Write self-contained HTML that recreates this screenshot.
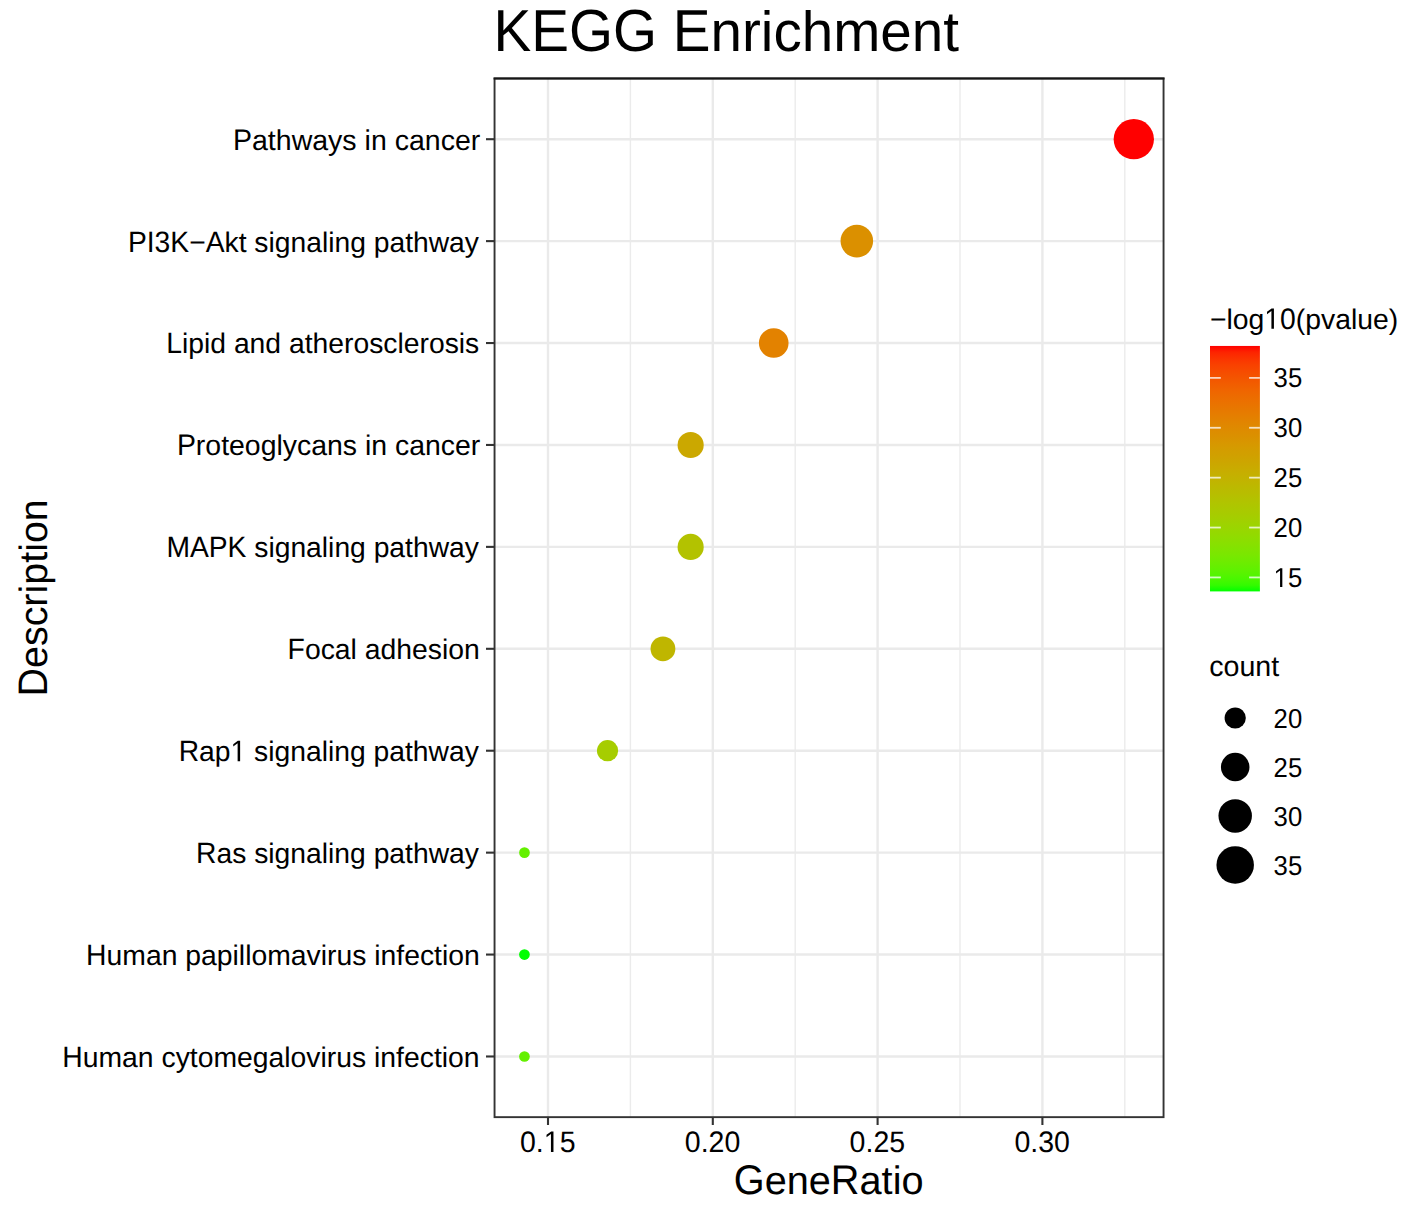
<!DOCTYPE html><html><head><meta charset="utf-8"><title>KEGG Enrichment</title><style>html,body{margin:0;padding:0;background:#fff;}svg{display:block;}text{font-family:"Liberation Sans", sans-serif;fill:#000;text-rendering:geometricPrecision;}</style></head><body>
<svg width="1417" height="1205" viewBox="0 0 1417 1205">
<rect x="0" y="0" width="1417" height="1205" fill="#fff"/>
<line x1="630.40" y1="78.45" x2="630.40" y2="1117.15" stroke="#EBEBEB" stroke-width="1.4"/>
<line x1="795.20" y1="78.45" x2="795.20" y2="1117.15" stroke="#EBEBEB" stroke-width="1.4"/>
<line x1="960.00" y1="78.45" x2="960.00" y2="1117.15" stroke="#EBEBEB" stroke-width="1.4"/>
<line x1="1124.80" y1="78.45" x2="1124.80" y2="1117.15" stroke="#EBEBEB" stroke-width="1.4"/>
<line x1="548.00" y1="78.45" x2="548.00" y2="1117.15" stroke="#EAEAEA" stroke-width="2.4"/>
<line x1="712.80" y1="78.45" x2="712.80" y2="1117.15" stroke="#EAEAEA" stroke-width="2.4"/>
<line x1="877.60" y1="78.45" x2="877.60" y2="1117.15" stroke="#EAEAEA" stroke-width="2.4"/>
<line x1="1042.40" y1="78.45" x2="1042.40" y2="1117.15" stroke="#EAEAEA" stroke-width="2.4"/>
<line x1="494.55" y1="139.20" x2="1163.55" y2="139.20" stroke="#EAEAEA" stroke-width="2.4"/>
<line x1="494.55" y1="241.12" x2="1163.55" y2="241.12" stroke="#EAEAEA" stroke-width="2.4"/>
<line x1="494.55" y1="343.04" x2="1163.55" y2="343.04" stroke="#EAEAEA" stroke-width="2.4"/>
<line x1="494.55" y1="444.96" x2="1163.55" y2="444.96" stroke="#EAEAEA" stroke-width="2.4"/>
<line x1="494.55" y1="546.88" x2="1163.55" y2="546.88" stroke="#EAEAEA" stroke-width="2.4"/>
<line x1="494.55" y1="648.80" x2="1163.55" y2="648.80" stroke="#EAEAEA" stroke-width="2.4"/>
<line x1="494.55" y1="750.72" x2="1163.55" y2="750.72" stroke="#EAEAEA" stroke-width="2.4"/>
<line x1="494.55" y1="852.64" x2="1163.55" y2="852.64" stroke="#EAEAEA" stroke-width="2.4"/>
<line x1="494.55" y1="954.56" x2="1163.55" y2="954.56" stroke="#EAEAEA" stroke-width="2.4"/>
<line x1="494.55" y1="1056.48" x2="1163.55" y2="1056.48" stroke="#EAEAEA" stroke-width="2.4"/>
<circle cx="1133.80" cy="139.20" r="20.15" fill="#FF0000"/>
<circle cx="856.83" cy="241.12" r="16.28" fill="#DB9000"/>
<circle cx="773.73" cy="343.04" r="14.82" fill="#E38200"/>
<circle cx="690.64" cy="444.96" r="13.08" fill="#CBA800"/>
<circle cx="690.64" cy="546.88" r="13.08" fill="#B3C200"/>
<circle cx="662.94" cy="648.80" r="12.41" fill="#BFB600"/>
<circle cx="607.55" cy="750.72" r="10.60" fill="#A6CD00"/>
<circle cx="524.46" cy="852.64" r="5.35" fill="#64F000"/>
<circle cx="524.46" cy="954.56" r="5.35" fill="#00FF00"/>
<circle cx="524.46" cy="1056.48" r="5.35" fill="#64F000"/>
<rect x="494.55" y="78.45" width="669.00" height="1038.70" fill="none" stroke="#333333" stroke-width="1.9"/>
<line x1="493.6" y1="78.45" x2="1164.5" y2="78.45" stroke="#161616" stroke-width="1.9"/>
<line x1="486.0" y1="139.20" x2="494.55" y2="139.20" stroke="#333333" stroke-width="2.1"/>
<text transform="translate(233.00 149.65) scale(1 1.045)" font-size="28.528">P</text>
<text x="252.02" y="149.65" font-size="28.528">athways in cancer</text>
<line x1="486.0" y1="241.12" x2="494.55" y2="241.12" stroke="#333333" stroke-width="2.1"/>
<text transform="translate(127.89 251.57) scale(1 1.045)" font-size="28.267">PI</text>
<text transform="translate(154.60 251.57) scale(1 1.045)" font-size="28.267">3</text>
<text transform="translate(170.32 251.57) scale(1 1.045)" font-size="28.267">K</text>
<text x="189.17" y="251.57" font-size="28.267">−</text>
<text transform="translate(205.68 251.57) scale(1 1.045)" font-size="28.267">A</text>
<text x="224.54" y="251.57" font-size="28.267">kt signaling pathway</text>
<line x1="486.0" y1="343.04" x2="494.55" y2="343.04" stroke="#333333" stroke-width="2.1"/>
<text transform="translate(166.23 353.49) scale(1 1.045)" font-size="28.312">L</text>
<text x="181.98" y="353.49" font-size="28.312">ipid and atherosclerosis</text>
<line x1="486.0" y1="444.96" x2="494.55" y2="444.96" stroke="#333333" stroke-width="2.1"/>
<text transform="translate(176.90 455.41) scale(1 1.045)" font-size="28.434">P</text>
<text x="195.87" y="455.41" font-size="28.434">roteoglycans in cancer</text>
<line x1="486.0" y1="546.88" x2="494.55" y2="546.88" stroke="#333333" stroke-width="2.1"/>
<text transform="translate(166.38 557.33) scale(1 1.045)" font-size="28.255">MAPK</text>
<text x="254.30" y="557.33" font-size="28.255">signaling pathway</text>
<line x1="486.0" y1="648.80" x2="494.55" y2="648.80" stroke="#333333" stroke-width="2.1"/>
<text transform="translate(287.57 659.25) scale(1 1.045)" font-size="28.352">F</text>
<text x="304.89" y="659.25" font-size="28.352">ocal adhesion</text>
<line x1="486.0" y1="750.72" x2="494.55" y2="750.72" stroke="#333333" stroke-width="2.1"/>
<text transform="translate(178.63 761.17) scale(1 1.045)" font-size="28.281">R</text>
<text x="199.05" y="761.17" font-size="28.281">ap</text>
<path transform="translate(230.51 761.17) scale(0.01381 -0.01443)" d="M515 0L515 1237L197 1010L197 1180L530 1409L696 1409L696 0Z" fill="#000"/>
<text x="254.09" y="761.17" font-size="28.281">signaling pathway</text>
<line x1="486.0" y1="852.64" x2="494.55" y2="852.64" stroke="#333333" stroke-width="2.1"/>
<text transform="translate(196.08 863.09) scale(1 1.045)" font-size="28.284">R</text>
<text x="216.51" y="863.09" font-size="28.284">as signaling pathway</text>
<line x1="486.0" y1="954.56" x2="494.55" y2="954.56" stroke="#333333" stroke-width="2.1"/>
<text transform="translate(86.09 965.01) scale(1 1.045)" font-size="28.338">H</text>
<text x="106.55" y="965.01" font-size="28.338">uman papillomavirus infection</text>
<line x1="486.0" y1="1056.48" x2="494.55" y2="1056.48" stroke="#333333" stroke-width="2.1"/>
<text transform="translate(62.31 1066.93) scale(1 1.045)" font-size="28.349">H</text>
<text x="82.78" y="1066.93" font-size="28.349">uman cytomegalovirus infection</text>
<line x1="548.00" y1="1117.15" x2="548.00" y2="1125" stroke="#333333" stroke-width="2.1"/>
<text transform="translate(520.02 1151.90) scale(1 1.038)" font-size="28.5">0</text>
<text x="535.87" y="1151.90" font-size="28.5">.</text>
<path transform="translate(543.78 1151.90) scale(0.01392 -0.01444)" d="M515 0L515 1237L197 1010L197 1180L530 1409L696 1409L696 0Z" fill="#000"/>
<text transform="translate(559.63 1151.90) scale(1 1.038)" font-size="28.5">5</text>
<line x1="712.80" y1="1117.15" x2="712.80" y2="1125" stroke="#333333" stroke-width="2.1"/>
<text transform="translate(684.82 1151.90) scale(1 1.038)" font-size="28.5">0</text>
<text x="700.67" y="1151.90" font-size="28.5">.</text>
<text transform="translate(708.58 1151.90) scale(1 1.038)" font-size="28.5">20</text>
<line x1="877.60" y1="1117.15" x2="877.60" y2="1125" stroke="#333333" stroke-width="2.1"/>
<text transform="translate(849.62 1151.90) scale(1 1.038)" font-size="28.5">0</text>
<text x="865.47" y="1151.90" font-size="28.5">.</text>
<text transform="translate(873.38 1151.90) scale(1 1.038)" font-size="28.5">25</text>
<line x1="1042.40" y1="1117.15" x2="1042.40" y2="1125" stroke="#333333" stroke-width="2.1"/>
<text transform="translate(1014.42 1151.90) scale(1 1.038)" font-size="28.5">0</text>
<text x="1030.27" y="1151.90" font-size="28.5">.</text>
<text transform="translate(1038.18 1151.90) scale(1 1.038)" font-size="28.5">30</text>
<text transform="translate(733.75 1194.00) scale(1 1.045)" font-size="39.7">G</text>
<text x="764.63" y="1194.00" font-size="39.7">ene</text>
<text transform="translate(830.87 1194.00) scale(1 1.045)" font-size="39.7">R</text>
<text x="859.54" y="1194.00" font-size="39.7">atio</text>
<g transform="translate(46.8 597.82) rotate(-90)"><text transform="translate(-98.64 0.00) scale(1 1.045)" font-size="39.44">D</text>
<text x="-70.16" y="0.00" font-size="39.44">escription</text></g>
<text transform="translate(493.55 50.80) scale(1 1.05)" font-size="56.59">KEGG</text>
<text transform="translate(672.80 50.80) scale(1 1.05)" font-size="56.59">E</text>
<text x="710.54" y="50.80" font-size="56.59">nrichment</text>
<text x="1209.90" y="328.80" font-size="28.35">−log</text>
<path transform="translate(1264.29 328.80) scale(0.01384 -0.01447)" d="M515 0L515 1237L197 1010L197 1180L530 1409L696 1409L696 0Z" fill="#000"/>
<text transform="translate(1280.06 328.80) scale(1 1.045)" font-size="28.35">0</text>
<text x="1295.82" y="328.80" font-size="28.35">(pvalue)</text>
<defs><linearGradient id="cb" x1="0" y1="1" x2="0" y2="0">
<stop offset="0.000" stop-color="#00FF00"/>
<stop offset="0.025" stop-color="#33FB00"/>
<stop offset="0.050" stop-color="#49F700"/>
<stop offset="0.075" stop-color="#59F300"/>
<stop offset="0.100" stop-color="#65EF00"/>
<stop offset="0.125" stop-color="#70EB00"/>
<stop offset="0.150" stop-color="#7AE700"/>
<stop offset="0.175" stop-color="#82E300"/>
<stop offset="0.200" stop-color="#8ADF00"/>
<stop offset="0.225" stop-color="#91DB00"/>
<stop offset="0.250" stop-color="#98D700"/>
<stop offset="0.275" stop-color="#9ED300"/>
<stop offset="0.300" stop-color="#A4CE00"/>
<stop offset="0.325" stop-color="#A9CA00"/>
<stop offset="0.350" stop-color="#AEC600"/>
<stop offset="0.375" stop-color="#B3C200"/>
<stop offset="0.400" stop-color="#B8BD00"/>
<stop offset="0.425" stop-color="#BCB900"/>
<stop offset="0.450" stop-color="#C1B400"/>
<stop offset="0.475" stop-color="#C5B000"/>
<stop offset="0.500" stop-color="#C9AB00"/>
<stop offset="0.525" stop-color="#CCA600"/>
<stop offset="0.550" stop-color="#D0A100"/>
<stop offset="0.575" stop-color="#D39D00"/>
<stop offset="0.600" stop-color="#D79800"/>
<stop offset="0.625" stop-color="#DA9200"/>
<stop offset="0.650" stop-color="#DD8D00"/>
<stop offset="0.675" stop-color="#E08800"/>
<stop offset="0.700" stop-color="#E38200"/>
<stop offset="0.725" stop-color="#E67C00"/>
<stop offset="0.750" stop-color="#E87600"/>
<stop offset="0.775" stop-color="#EB7000"/>
<stop offset="0.800" stop-color="#ED6A00"/>
<stop offset="0.825" stop-color="#F06300"/>
<stop offset="0.850" stop-color="#F25B00"/>
<stop offset="0.875" stop-color="#F45300"/>
<stop offset="0.900" stop-color="#F74A00"/>
<stop offset="0.925" stop-color="#F94000"/>
<stop offset="0.950" stop-color="#FB3300"/>
<stop offset="0.975" stop-color="#FD2300"/>
<stop offset="1.000" stop-color="#FF0000"/>
</linearGradient></defs>
<rect x="1210.0" y="345.95" width="49.90" height="245.45" fill="url(#cb)"/>
<line x1="1210.0" y1="577.43" x2="1220.80" y2="577.43" stroke="#fff" stroke-width="1.8" stroke-opacity="0.75"/>
<line x1="1249.10" y1="577.43" x2="1259.9" y2="577.43" stroke="#fff" stroke-width="1.8" stroke-opacity="0.75"/>
<path transform="translate(1273.60 587.03) scale(0.01255 -0.01336)" d="M515 0L515 1237L197 1010L197 1180L530 1409L696 1409L696 0Z" fill="#000"/>
<text transform="translate(1287.89 587.03) scale(1 1.065)" font-size="25.7">5</text>
<line x1="1210.0" y1="527.54" x2="1220.80" y2="527.54" stroke="#fff" stroke-width="1.8" stroke-opacity="0.75"/>
<line x1="1249.10" y1="527.54" x2="1259.9" y2="527.54" stroke="#fff" stroke-width="1.8" stroke-opacity="0.75"/>
<text transform="translate(1273.60 537.14) scale(1 1.065)" font-size="25.7">20</text>
<line x1="1210.0" y1="477.65" x2="1220.80" y2="477.65" stroke="#fff" stroke-width="1.8" stroke-opacity="0.75"/>
<line x1="1249.10" y1="477.65" x2="1259.9" y2="477.65" stroke="#fff" stroke-width="1.8" stroke-opacity="0.75"/>
<text transform="translate(1273.60 487.25) scale(1 1.065)" font-size="25.7">25</text>
<line x1="1210.0" y1="427.77" x2="1220.80" y2="427.77" stroke="#fff" stroke-width="1.8" stroke-opacity="0.75"/>
<line x1="1249.10" y1="427.77" x2="1259.9" y2="427.77" stroke="#fff" stroke-width="1.8" stroke-opacity="0.75"/>
<text transform="translate(1273.60 437.37) scale(1 1.065)" font-size="25.7">30</text>
<line x1="1210.0" y1="377.88" x2="1220.80" y2="377.88" stroke="#fff" stroke-width="1.8" stroke-opacity="0.75"/>
<line x1="1249.10" y1="377.88" x2="1259.9" y2="377.88" stroke="#fff" stroke-width="1.8" stroke-opacity="0.75"/>
<text transform="translate(1273.60 387.48) scale(1 1.065)" font-size="25.7">35</text>
<text x="1209.20" y="676.00" font-size="28.6">count</text>
<circle cx="1235.2" cy="718.00" r="10.60" fill="#000"/>
<text transform="translate(1273.60 727.60) scale(1 1.065)" font-size="25.7">20</text>
<circle cx="1235.2" cy="766.97" r="14.27" fill="#000"/>
<text transform="translate(1273.60 776.57) scale(1 1.065)" font-size="25.7">25</text>
<circle cx="1235.2" cy="815.94" r="16.73" fill="#000"/>
<text transform="translate(1273.60 825.54) scale(1 1.065)" font-size="25.7">30</text>
<circle cx="1235.2" cy="864.91" r="18.74" fill="#000"/>
<text transform="translate(1273.60 874.51) scale(1 1.065)" font-size="25.7">35</text>
</svg></body></html>
